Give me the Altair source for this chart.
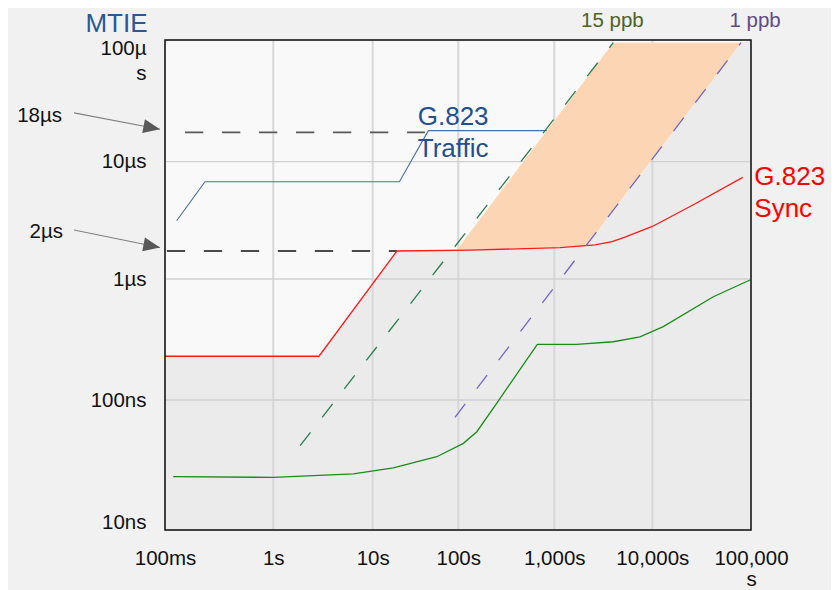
import altair as alt
import pandas as pd

FONT = "Liberation Sans"

# ---------------- axes (x: observation interval in s, y: MTIE in ns) ----------------
x_ticks = [0.1, 1, 10, 100, 1000, 10000, 100000]
x_tick_labels = ["100ms", "1s", "10s", "100s", "1,000s", "10,000s", "100,000\ns"]
y_ticks = [10, 100, 1000, 10000, 100000]
y_tick_labels = ["10ns", "100ns", "1µs", "10µs", "100µ\ns"]

# ---------------- series ----------------
# G.823 Sync mask (red)
sync_tau = [0.1, 2.88, 19.2, 132, 1143, 2600, 3882, 5260, 10000, 25800, 82400]
sync_mtie = [230, 230, 1733, 1766, 1849, 1950, 2080, 2280, 2805, 4275, 7360]

# measured MTIE (green)
meas_tau = [0.119, 1, 6.38, 17.4, 56.0, 113, 156, 251, 665, 1693, 4000, 7480, 12920, 41500, 97700]
meas_mtie = [25.7, 25.4, 27.0, 30.1, 36.6, 46.4, 57.0, 94.4, 288, 288, 303, 333, 404, 714, 981]

# G.823 Traffic mask (blue)
traffic_tau = [0.128, 0.234, 20.5, 44.7, 1000]
traffic_mtie = [3140, 6750, 6750, 18000, 18000]

# reference levels (dashed black)
level18_tau = [0.153, 40.8]
level18_mtie = [17400, 17400]
level2_tau = [0.104, 19.2]
level2_mtie = [1733, 1733]

# frequency-offset slopes (dashed)
ppb15_tau = [1.86, 4000]
ppb15_mtie = [44.5, 95000]
ppb1_tau = [91.4, 79300]
ppb1_mtie = [73.6, 95000]

# peach band between 15 ppb and 1 ppb above the sync mask
band_tau = [95.7, 2140, 4000, 79300]
band_top = [1766, 48700, 95000, 95000]
band_bottom = [1766, 1910, 3850, 95000]

# grey region (under sync mask / right of the 1 ppb line)
grey_tau = [0.1, 2.88, 19.2, 132, 1143, 2140, 79300, 100000]
grey_top = [230, 230, 1733, 1766, 1849, 1910, 95000, 100000]
grey_bottom = [10] * len(grey_tau)

# annotations (anchor in data coordinates)
traffic_text = ["G.823", "Traffic"]
traffic_text_tau = [33.6, 33.6]
traffic_text_mtie = [20100, 11000]
sync_text = ["G.823", "Sync"]
sync_text_tau = [108000, 108000]
sync_text_mtie = [6320, 3410]
ppb15_text = ["15 ppb"]
ppb15_text_tau = [3910]
ppb15_text_mtie = [127000]
ppb1_text = ["1 ppb"]
ppb1_text_tau = [110000]
ppb1_text_mtie = [127000]
level_text = ["18µs", "2µs"]
level_text_tau = [0.0112, 0.01143]
level_text_mtie = [21000, 2220]
arrow_tau0 = [0.01445, 0.01445]
arrow_mtie0 = [25200, 2617]
arrow_tau1 = [0.0899, 0.0899]
arrow_mtie1 = [18460, 1856]

# ---------------- scales ----------------
X_RANGE = [0, 108.3, 207.7, 293.3, 389.3, 487.3, 586]
Y_RANGE = [490, 360, 239, 121.7, 0]
xs = alt.Scale(type="log", domain=x_ticks, range=X_RANGE, nice=False)
ys = alt.Scale(type="log", domain=y_ticks, range=Y_RANGE, nice=False)


def label_expr(values, labels):
    parts = []
    for v, lab in zip(values, labels):
        if "\n" in lab:
            lit = "[" + ",".join("'" + s + "'" for s in lab.split("\n")) + "]"
        else:
            lit = "'" + lab + "'"
        parts.append(f"datum.value == {v} ? {lit} : ")
    return "".join(parts) + "''"


x_axis = alt.Axis(values=x_ticks, labelExpr=label_expr(x_ticks, x_tick_labels), title=None,
                  grid=False, ticks=False, domain=False, labelPadding=18, labelFontSize=20.5,
                  labelFont=FONT, labelColor="#111111", labelFlush=False, labelOverlap=False,
                  labelBound=False, labelLineHeight=21)
y_axis = alt.Axis(values=y_ticks, labelExpr=label_expr(y_ticks, y_tick_labels), title="MTIE",
                  titleX=-49, titleY=-30, titleAngle=0, titleAlign="center", titleBaseline="top",
                  titleFontSize=26, titleFont=FONT, titleColor="#2b5797", titleFontWeight="normal",
                  grid=False, ticks=False, domain=False, labelPadding=19, labelFontSize=20.5,
                  labelFont=FONT, labelColor="#111111", labelFlush=True, labelFlushOffset=2,
                  labelOverlap=False, labelBound=False, labelLineHeight=25)


def X(f):
    return alt.X(f, type="quantitative", scale=xs, axis=x_axis)


def Y(f):
    return alt.Y(f, type="quantitative", scale=ys, axis=y_axis)


def line_layer(tau, mtie, **mark):
    df = pd.DataFrame({"t": tau, "m": mtie})
    return alt.Chart(df).mark_line(**mark).encode(x=X("t"), y=Y("m"))


def text_layer(texts, tau, mtie, **mark):
    df = pd.DataFrame({"label": texts, "t": tau, "m": mtie})
    return alt.Chart(df).mark_text(font=FONT, baseline="alphabetic", **mark).encode(
        x=X("t"), y=Y("m"), text="label:N")


grey = alt.Chart(pd.DataFrame({"t": grey_tau, "top": grey_top, "bottom": grey_bottom})).mark_area(
    color="#ebebeb", opacity=1).encode(x=X("t"), y=Y("top"), y2="bottom:Q")

vgrid = alt.Chart(pd.DataFrame({"t": x_ticks})).mark_rule(color="#d8d8d8", strokeWidth=2).encode(x=X("t"))
hgrid = alt.Chart(pd.DataFrame({"m": y_ticks})).mark_rule(color="#d0d0d0", strokeWidth=1.3).encode(y=Y("m"))

traffic = line_layer(traffic_tau, traffic_mtie, color="#4a6fa8", strokeWidth=1.1)
lvl18 = line_layer(level18_tau, level18_mtie, color="#5a5a5a", strokeWidth=1.7, strokeDash=[18.3, 18.7])
lvl2 = line_layer(level2_tau, level2_mtie, color="#111111", strokeWidth=1.3, strokeDash=[18.3, 18.7])

band = alt.Chart(pd.DataFrame({"t": band_tau, "top": band_top, "bottom": band_bottom})).mark_area(
    color="#fcd5b4", opacity=1).encode(x=X("t"), y=Y("top"), y2="bottom:Q")

sync = line_layer(sync_tau, sync_mtie, color="#ff1a1a", strokeWidth=1.3)
meas = line_layer(meas_tau, meas_mtie, color="#1a8c1a", strokeWidth=1.3)
p15 = line_layer(ppb15_tau, ppb15_mtie, color="#2a7d4a", strokeWidth=1.3, strokeDash=[17, 19])
p1 = line_layer(ppb1_tau, ppb1_mtie, color="#7565c0", strokeWidth=1.3, strokeDash=[17, 19])

frame = alt.Chart(pd.DataFrame({"x0": [x_ticks[0]], "x1": [x_ticks[-1]],
                                "y0": [y_ticks[0]], "y1": [y_ticks[-1]]})).mark_rect(
    fillOpacity=0, stroke="#111111", strokeWidth=1.5).encode(
    x=X("x0"), x2="x1:Q", y=Y("y0"), y2="y1:Q")

arrows_df = pd.DataFrame({"t0": arrow_tau0, "m0": arrow_mtie0, "t1": arrow_tau1, "m1": arrow_mtie1})
arrow_lines = alt.Chart(arrows_df).mark_rule(color="#808080", strokeWidth=1.1).encode(
    x=X("t0"), y=Y("m0"), x2="t1:Q", y2="m1:Q")
arrow_heads = alt.Chart(arrows_df).mark_point(
    shape="M0,0L-2,-0.84L-2,0.84Z", size=279, angle=11, filled=True, opacity=1,
    color="#595959", strokeWidth=0).encode(x=X("t1"), y=Y("m1"))

t_traffic = text_layer(traffic_text, traffic_text_tau, traffic_text_mtie,
                       align="left", fontSize=26, color="#22508e")
t_sync = text_layer(sync_text, sync_text_tau, sync_text_mtie,
                    align="left", fontSize=26, color="#ff0000")
t_15 = text_layer(ppb15_text, ppb15_text_tau, ppb15_text_mtie,
                  align="center", fontSize=20.5, color="#4f6228")
t_1 = text_layer(ppb1_text, ppb1_text_tau, ppb1_text_mtie,
                 align="center", fontSize=20.5, color="#5f4b84")
t_lvl = text_layer(level_text, level_text_tau, level_text_mtie,
                   align="right", fontSize=20.5, color="#111111")

chart = alt.layer(
    grey, vgrid, hgrid, traffic, lvl18, lvl2, band, sync, meas, p15, p1, frame,
    arrow_lines, arrow_heads, t_traffic, t_sync, t_15, t_1, t_lvl
).properties(
    width=586, height=490,
    autosize=alt.AutoSizeParams(type="none"),
    padding={"left": 157, "top": 32, "right": 80, "bottom": 60},
    background="#f1f1f1",
).configure_view(stroke="transparent", fill="#f9f9f9")

chart.save("out.html", embed_options={"renderer": "svg", "actions": False})
